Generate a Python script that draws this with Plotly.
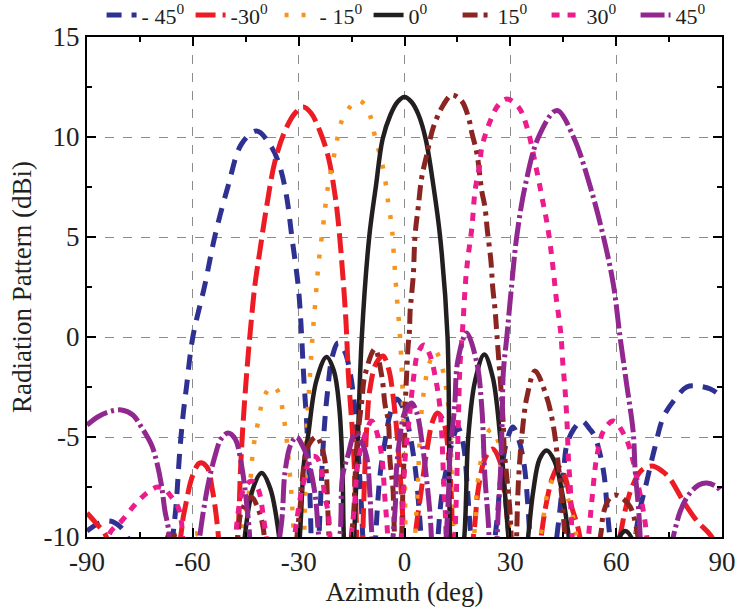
import plotly.graph_objects as go

# ---- data: (azimuth deg, gain dBi) ----
series_names = ["- 45<sup>0</sup>", "-30<sup>0</sup>", "- 15<sup>0</sup>", "0<sup>0</sup>",
                "15<sup>0</sup>", "30<sup>0</sup>", "45<sup>0</sup>"]

beam_m45 = [(-90,-9.7),(-86.5,-9.3),(-83.5,-9.2),(-80.5,-9.5),(-78,-10.2),(-72,-15),
    (-66.2,-10.5),(-64.9,-8.7),(-63.7,-5.7),(-62.7,-3.8),(-61.8,-2.5),(-60,0),(-56.6,2.6),(-53.8,5),
    (-50,7.55),(-46.2,9.65),(-41.9,10.3),(-37.7,9.5),(-35.3,8.5),(-33.4,7),(-32,5.1),(-30.1,2.5),
    (-29.4,0.8),(-28.5,-2.2),(-27.7,-4.4),(-26.8,-8),(-25.5,-15),
    (-24,-9),(-22.8,-4.7),(-21.8,-2.7),(-20.5,-1.0),(-18.8,-0.3),(-17,-0.7),(-15.5,-1.7),(-14,-3.7),
    (-12.3,-8.2),(-10.3,-15),
    (-7,-7),(-5.5,-5.2),(-4,-3.8),(-2.2,-3.1),(-0.5,-3.5),(1,-4.4),(3,-6.5),(4.5,-9.5),(6.5,-15),
    (9,-11),(10.5,-8),(12,-6.5),(13.9,-5),(15.1,-4.5),(16.7,-5.4),(17.8,-7.5),(18.6,-9.5),(21.5,-15),
    (26,-9.5),(27.3,-7),(29,-5.2),(30.7,-4.5),(32.5,-5.2),(34,-6.5),(35,-8.5),(35.8,-10.5),(39,-15),
    (43.5,-9.5),(45,-7),(46,-5.4),(48,-4.6),(50.3,-4.2),(52.5,-4.6),(54,-5.0),(56.4,-6.7),(57.5,-8.7),
    (58.5,-10.5),(61.5,-15),
    (66.3,-9),(68.7,-7.2),(71,-5.5),(73.4,-4),(76.7,-3.1),(80,-2.5),(82.9,-2.45),(86.7,-2.6),(90,-3.0)]

beam_m30 = [(-90,-8.8),(-87.5,-9.3),(-84.5,-10),(-81,-15),
    (-65,-11),(-62.5,-8.8),(-60,-6.9),(-58,-6.3),(-56,-6.5),(-54.5,-7.6),(-53,-9.5),(-50.5,-15),
    (-47.3,-10),(-46.5,-6.7),(-45.9,-4.7),(-44.6,-1.5),(-43.6,0.5),(-42.4,2.6),(-41,4.3),(-39.1,6.5),
    (-36.7,8.8),(-33.9,10.3),(-31,11.2),(-28.7,11.5),(-26.5,11.2),(-24,10.3),(-21.6,9),(-19.7,7.1),
    (-18.8,5.8),(-17.8,3.8),(-16.6,0.8),(-15.9,-1.9),(-14.5,-5.5),(-13.6,-9.5),(-12.8,-15),
    (-11.5,-8),(-10.7,-4.5),(-9.8,-2.6),(-8,-1.3),(-6.1,-0.95),(-4.5,-1.6),(-3.2,-3.0),(-1.8,-5.5),
    (-0.5,-9),(1,-15),
    (3,-10),(4.5,-8),(6.5,-5.5),(8,-4.2),(9.3,-3.8),(11,-4.2),(12.3,-5.5),(13.3,-8),(14.5,-15),
    (19.5,-10),(21,-7.5),(23,-6),(25,-5.6),(27,-6.2),(28.5,-8),(30,-10.5),(34,-15),
    (40,-8.5),(42,-7),(43.6,-6.5),(45.5,-7.0),(47.4,-8.5),(49.5,-9.8),(52.5,-15),
    (61,-10),(62.5,-8.7),(64.5,-7.5),(67,-6.7),(70.1,-6.45),(73,-6.7),(75.3,-7.1),(79,-8.2),
    (82.9,-9.2),(86.7,-9.9),(90,-11)]

beam_m15 = [(-65,-13),(-61,-10.2),(-59.4,-9.8),(-57.5,-10.2),(-53,-15),
    (-44.3,-8),(-42.9,-5.6),(-42,-4.7),(-39.8,-3.0),(-37.7,-2.45),(-36,-2.67),(-34.1,-4.17),
    (-32.2,-7.5),(-31.5,-9.5),(-29.8,-15),
    (-28.3,-9),(-27.8,-5),(-26.8,-1.9),(-26,0.2),(-25.2,1.9),(-24.4,3.6),(-22.7,6.1),(-21.9,7.3),
    (-19.7,9.3),(-17.8,10.8),(-15.5,11.5),(-13.6,11.85),(-11.7,11.7),(-9.8,11.1),(-8.4,10.05),
    (-6,8.4),(-4.6,6.7),(-3.6,5.5),(-3,4.05),(-2.3,2.3),(-1.3,0.1),(-0.8,-1.6),(-0.4,-3.5),(0,-6),(1,-15),
    (3.6,-8),(4.1,-5.95),(4.6,-4.2),(5.6,-2.6),(6.6,-1.6),(7.7,-1.0),(8.7,-0.7),(10,-1.1),(12,-2.8),
    (13,-5),(13.8,-8),(16,-15),
    (20,-9.4),(20.5,-7.7),(21.9,-5.95),(23.5,-4.8),(24.7,-4.6),(26.5,-5.2),(28,-6.5),(29.5,-9),(32.5,-15),
    (39,-9.5),(40.3,-8.0),(42.7,-7.0),(45,-7.5),(47.9,-9.1),(49.5,-11),(55,-15),
    (63,-12),(66,-9.7),(69,-12)]

beam_0 = [(-48,-15),(-45.5,-10.3),(-43,-7.6),(-40.5,-6.8),(-38,-7.6),(-35.3,-10.3),(-32.5,-15),
    (-29.8,-10.3),(-28.5,-6.3),(-27.3,-4.9),(-25,-2.2),(-22.1,-1.0),(-20,-1.7),(-18.5,-3.5),
    (-17.6,-6.5),(-17.2,-10),(-15.8,-15),
    (-14.4,-10.5),(-13.2,-5),(-12.1,0),(-10,5),(-8.1,7.55),(-6.2,9.9),(-4,11.1),(-2,11.75),(0,12),
    (2,11.75),(4,11.1),(6,9.9),(8.2,7.55),(10.1,5),(12.2,0),(12.9,-9.9),(14.2,-15),
    (17,-9.9),(18.1,-4.95),(20,-2.2),(22.6,-0.87),(25,-2),(27.1,-4.95),(29.4,-9.9),(31.8,-15),
    (35.1,-9.9),(36.5,-7.7),(38.3,-6.1),(40.3,-5.67),(42.5,-6.2),(44.6,-7.7),(46.5,-9.9),(50,-15),
    (59.5,-10.5),(62.6,-9.7),(65.5,-10.5),(70,-15)]

beam_p15 = [(-70,-12),(-66,-9.7),(-62,-12),
    (-49.5,-14),(-47.1,-9.7),(-46.2,-8.7),(-43.4,-8.0),(-41.5,-8.6),(-40,-9.6),(-38,-15),
    (-31.5,-12),(-30.5,-10),(-29.6,-8.5),(-27.4,-5.5),(-24.9,-5.0),(-23,-5.8),(-22.2,-6.7),
    (-21.7,-8.8),(-19.5,-15),
    (-14.6,-9.2),(-14,-7),(-13.5,-5.4),(-12.1,-3.2),(-11.2,-1.9),(-8.4,-0.6),(-6.5,-1.9),(-5.5,-3.4),
    (-4.6,-4.2),(-4.1,-6.2),(-3.3,-7.5),(-3,-9),(-2,-15),
    (-0.8,-10),(-0.4,-7.2),(0,-5.5),(0.2,-3.5),(0.6,-1.9),(1,-0.5),(1.4,0.3),(1.6,1.3),(2,2.1),
    (2.5,3.1),(3,5.1),(3.9,6.5),(4.9,8),(6.3,9.1),(8.2,10.5),(11,11.6),(13.4,12.1),(16.2,11.8),
    (18.1,11),(19.1,10.2),(20.5,9.2),(21.9,7.3),(22.8,6.5),(23.5,5.3),(24.5,3.8),(25,2.5),(25.7,1.3),
    (26.2,0.1),(27,-1.8),(27.6,-3.2),(28,-4.4),(28.3,-5.7),(29,-7),(30,-9),(31,-15),
    (32.3,-7.2),(33.7,-4.2),(34.7,-3),(37,-1.7),(40.3,-3),(42.2,-4.45),(43.6,-6.4),(44.6,-8),
    (45.5,-10),(48,-15),
    (55.5,-10),(56.4,-8.8),(58,-8.1),(59.7,-7.9),(62,-8.1),(64,-8.5),(65.9,-9.7),(68,-13)]

beam_p30 = [(-87,-13),(-83.5,-9.8),(-80.2,-9.2),(-76.5,-8.4),(-73,-7.8),(-70,-7.5),(-68,-7.6),
    (-66.5,-7.9),(-64.2,-8.5),(-63.2,-9.3),(-60.5,-15),
    (-49,-12),(-47.5,-9.3),(-46,-7.8),(-43.5,-7.2),(-41.5,-7.6),(-40,-9.0),(-38.8,-10.5),(-35,-15),
    (-30.8,-9.5),(-29.5,-8),(-28.5,-7.2),(-26.5,-6.0),(-25,-6.0),(-23.5,-6.7),(-22.6,-8),(-21.6,-8.8),
    (-19.5,-15),
    (-14.5,-9),(-13.1,-6.2),(-11,-4.8),(-9.3,-4.2),(-7.8,-4.8),(-6.5,-5.9),(-5.5,-8.2),(-5,-9.3),(-2.8,-15),
    (-0.5,-8.5),(0.2,-6),(1.4,-4),(2.6,-2),(3.8,-0.8),(5.5,-0.4),(7.2,-0.9),(9.1,-2.35),(10,-3.45),
    (10.6,-5),(11.1,-7.2),(11.5,-8.5),(13,-15),
    (14.5,-9),(15,-6),(15.3,-4),(15.7,-1.5),(16.5,0.47),(17.4,2.97),(18.1,4.13),(19.1,5.47),(20,7.3),
    (21.4,8.7),(21.9,9.47),(24.3,10.8),(26.6,11.6),(29,11.9),(32.3,11.5),(34.7,10.5),(37.5,8.3),
    (39.4,6.6),(40.3,5.8),(41.3,4.63),(42.2,3.3),(43,1.97),(43.9,0.8),(44.4,0),(44.9,-1.37),
    (45.5,-2.6),(46.1,-4.4),(46.5,-6.2),(47,-7.5),(47.2,-8.7),(49.5,-15),
    (52.4,-9.5),(53.1,-8.2),(53.8,-6.95),(54.5,-6),(56.4,-4.7),(59.2,-4.2),(62.6,-5),(64.5,-6),
    (66,-7.2),(67.7,-8.7),(68.5,-9.7),(71,-15)]

beam_p45 = [(-90,-4.4),(-87,-4.0),(-84,-3.75),(-80.2,-3.65),(-77,-3.9),(-74.6,-4.5),(-71.7,-5.4),
    (-70.3,-6.2),(-68.9,-7.4),(-67.9,-8.7),(-67,-9.5),(-63,-15),
    (-57,-8.7),(-55.7,-7.4),(-53.8,-6.0),(-52,-5.1),(-50,-4.8),(-48,-5.1),(-46.2,-6.4),(-44.4,-8.9),(-41,-15),
    (-35,-9.5),(-33.9,-6.8),(-32.3,-5.4),(-30.6,-5.0),(-29,-5.4),(-27.4,-6.1),(-25.4,-7.8),(-24.3,-10),
    (-21.5,-15),
    (-18.2,-9.7),(-17.6,-7),(-16,-5.9),(-14,-4.8),(-12.3,-5.2),(-10.7,-6.0),(-9.8,-7.9),(-9.2,-10),(-6.5,-15),
    (-2.7,-8.7),(-2.3,-6.7),(-1.3,-5),(0,-3.8),(2,-3.3),(3.5,-3.8),(5,-5.3),(6.5,-7.5),(7.3,-9),(9.5,-15),
    (12.3,-8.5),(12.9,-5.9),(14.2,-3.5),(15.1,-1.2),(17.6,0.2),(20.5,-1.3),(21.9,-3.5),(22.8,-7.0),
    (23.8,-9.4),(25,-15),
    (26.5,-9),(27.2,-6.8),(27.7,-4.1),(28,-1.8),(29,0),(30.4,2.63),(31.8,5),(34.2,7.55),(38,10),
    (43.2,11.33),(47.9,10),(52.6,7.55),(56.4,5),(59.2,2.63),(61.1,0),(63,-2.4),(64.8,-4.7),(65.4,-6.7),
    (66.3,-8.5),(69.5,-15),
    (76.3,-9.9),(78.2,-8.7),(80.5,-7.9),(83.4,-7.4),(85.7,-7.3),(88.6,-7.5),(90,-7.8)]

x_ticks = [-90, -60, -30, 0, 30, 60, 90]
x_tick_labels = ["-90", "-60", "-30", "0", "30", "60", "90"]
y_ticks = [-10, -5, 0, 5, 10, 15]
y_tick_labels = ["-10", "-5", "0", "5", "10", "15"]

all_beams = [beam_m45, beam_m30, beam_m15, beam_0, beam_p15, beam_p30, beam_p45]

# ---- styles ----
colors = ["#2e3192", "#ed1c24", "#f7941d", "#231f20", "#8b2522", "#ec1c8c", "#92278f"]
dashes = ["15px,10px", "20px,7px", "4px,13px", "solid", "15px,6px,4px,6px", "8px,8px", "24px,4px,3px,4px"]
widths = [5, 5, 4.5, 4.5, 5, 5, 5]

FONT = "Liberation Serif, Times New Roman, serif"

fig = go.Figure()
for name, beam, c, d, w in zip(series_names, all_beams, colors, dashes, widths):
    xs = [p[0] for p in beam]
    ys = [p[1] for p in beam]
    fig.add_trace(go.Scatter(x=xs, y=ys, mode="lines", name=name,
                             line=dict(color=c, width=w, dash=d, shape="spline", smoothing=1.0),
                             hoverinfo="skip"))

axis_common = dict(showline=True, linewidth=2, linecolor="black", mirror="ticks",
                   ticks="inside", ticklen=9, tickwidth=2, tickcolor="black",
                   showgrid=True, gridcolor="#8c8c8c", gridwidth=1, griddash="dash",
                   zeroline=False, ticklabeloverflow="allow",
                   tickfont=dict(family=FONT, size=27, color="#231f20"))

fig.update_xaxes(range=[-90, 90], tickmode="array", tickvals=x_ticks, ticktext=x_tick_labels,
                 minor=dict(ticks="inside", ticklen=5, tickwidth=2, tickcolor="black",
                            dtick=15, tick0=-90, showgrid=False),
                 title=dict(text="Azimuth (deg)", font=dict(family=FONT, size=27, color="#231f20"),
                            standoff=2),
                 automargin=False, **axis_common)
fig.update_yaxes(range=[-10, 15], tickmode="array", tickvals=y_ticks, ticktext=y_tick_labels,
                 minor=dict(ticks="inside", ticklen=5, tickwidth=2, tickcolor="black",
                            dtick=2.5, tick0=-10, showgrid=False),
                 title=dict(text="Radiation Pattern (dBi)", font=dict(family=FONT, size=27, color="#231f20"),
                            standoff=4),
                 automargin=False, **axis_common)

fig.update_layout(
    width=736, height=607,
    margin=dict(l=87, r=14, t=37, b=70, autoexpand=False),
    paper_bgcolor="white", plot_bgcolor="white",
    font=dict(family=FONT, color="#231f20"),
    legend=dict(orientation="h", xref="container", yref="container",
                x=0.138, y=0.975, xanchor="left", yanchor="middle",
                font=dict(family=FONT, size=22, color="#231f20"),
                entrywidth=44, bgcolor="rgba(0,0,0,0)", itemwidth=30, tracegroupgap=0),
)

fig.write_html("out.html", config={"displayModeBar": False},
               post_script="document.body.style.margin='0px';document.body.style.padding='0px';")
